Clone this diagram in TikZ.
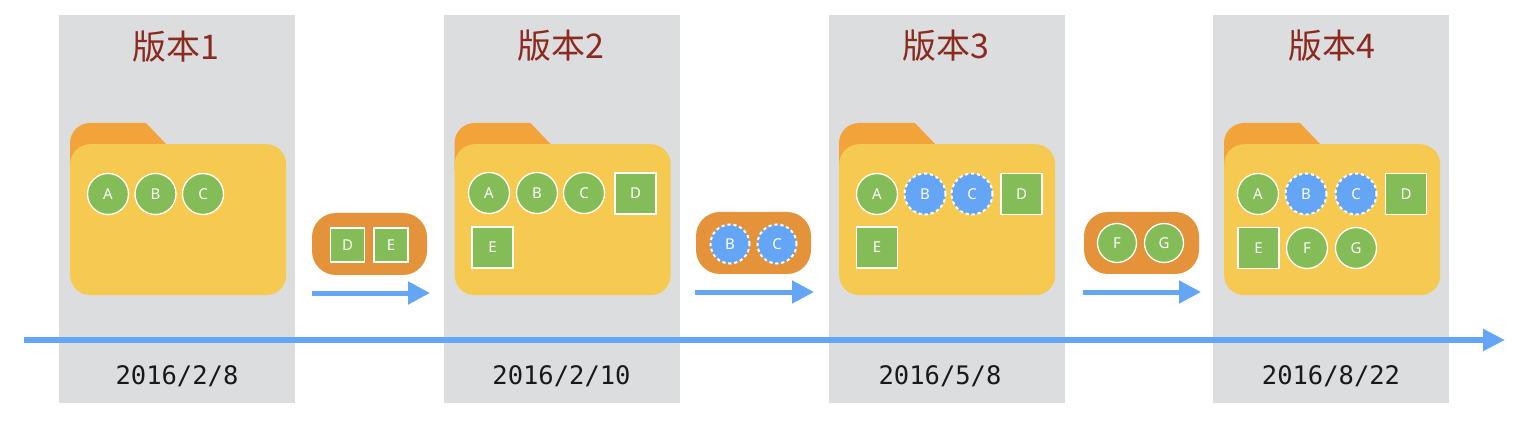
\documentclass[tikz,border=0pt]{standalone}
\usepackage{fontspec}
\setmainfont{Noto Sans}
\newfontfamily\cjkfont{Noto Sans CJK SC}
\newfontfamily\datefont{DejaVu Sans Mono}
\usetikzlibrary{arrows.meta}
\definecolor{panelc}{HTML}{DCDDDF}
\definecolor{tabc}{HTML}{F2A33A}
\definecolor{folderc}{HTML}{F6CA50}
\definecolor{pillc}{HTML}{E5933A}
\definecolor{greenc}{HTML}{84BC58}
\definecolor{bluec}{HTML}{64A6F5}
\definecolor{titlec}{HTML}{8B2A1E}
\tikzset{
  x=1pt,y=-1pt,
  panel/.style={fill=panelc,draw=none,minimum width=236pt,minimum height=388pt,inner sep=0pt,outer sep=0pt,anchor=north west},
  foldertab/.style={fill=tabc,draw=none},
  folderbody/.style={fill=folderc,draw=none,rounded corners=20pt,minimum width=216pt,minimum height=151pt,inner sep=0pt,anchor=north west},
  pill/.style={fill=pillc,draw=none,rounded corners=24pt,minimum width=115pt,minimum height=62pt,inner sep=0pt},
  lab/.style={text=white,font=\fontsize{15}{15}\selectfont,inner sep=0pt},
  circ/.style={circle,lab,draw=white,line width=1.3pt,fill=greenc,minimum size=41pt},
  bcirc/.style={circle,lab,draw=white,line width=2pt,dash pattern=on 3.2pt off 2.8pt,fill=bluec,minimum size=41pt},
  sq/.style={rectangle,lab,draw=white,line width=1.5pt,fill=greenc,minimum size=41pt},
  smallcirc/.style={minimum size=39pt},
  smallsq/.style={minimum size=34pt},
  ver/.style={text=titlec,font=\cjkfont\fontsize{34}{34}\selectfont,inner sep=0pt},
  datelab/.style={text=black!90,font=\datefont\fontsize{25.5}{25.5}\selectfont,inner sep=0pt},
  flow/.style={draw=bluec,line width=5pt,-{Triangle[length=22pt,width=22pt]}},
  axis/.style={draw=bluec,line width=5.5pt,-{Triangle[length=22pt,width=21pt]}}
}
\begin{document}
\begin{tikzpicture}
\useasboundingbox (0,0) rectangle (1516,422);
% panels
\node[panel] (p1) at (59,15) {};
\node[panel] (p2) at (444,15) {};
\node[panel] (p3) at (828.5,15) {};
\node[panel] (p4) at (1213,15) {};
% titles and dates
\node[ver] (t1) at (176,47) {版本1};
\node[ver] (t2) at (561,46) {版本2};
\node[ver] (t3) at (946,46) {版本3};
\node[ver] (t4) at (1332,46) {版本4};
\node[datelab] (d1) at (177,376) {2016/2/8};
\node[datelab] (d2) at (561.5,376) {2016/2/10};
\node[datelab] (d3) at (940,376) {2016/5/8};
\node[datelab] (d4) at (1331,376) {2016/8/22};
% folders
\foreach \fx/\nm in {70/f1,454.5/f2,839/f3,1224/f4}{
  \fill[foldertab] (\fx,170) [rounded corners=20pt] -- (\fx,123) [sharp corners] -- ++(76,0) -- ++(20,21) -- ++(0,26) -- cycle;
  \node[folderbody] (\nm) at (\fx,144) {};
}
% folder 1
\node[circ] (a1) at (108,194) {A};
\node[circ] (b1) at (155.5,194) {B};
\node[circ] (c1) at (203,194) {C};
% folder 2
\node[circ] (a2) at (489,193) {A};
\node[circ] (b2) at (537,193) {B};
\node[circ] (c2) at (584,193) {C};
\node[sq] (d2s) at (635.5,193.5) {D};
\node[sq] (e2) at (492.5,247.5) {E};
% folder 3
\node[circ] (a3) at (877,194) {A};
\node[bcirc] (b3) at (925,194) {B};
\node[bcirc] (c3) at (972,194) {C};
\node[sq] (d3s) at (1021.5,194) {D};
\node[sq] (e3) at (877,247.5) {E};
% folder 4
\node[circ] (a4) at (1258,194) {A};
\node[bcirc] (b4) at (1306,194) {B};
\node[bcirc] (c4) at (1356,194) {C};
\node[sq] (d4s) at (1406,194) {D};
\node[sq] (e4) at (1258.5,248) {E};
\node[circ] (f4c) at (1307,248) {F};
\node[circ] (g4) at (1356,248) {G};
% change pills
\node[pill] (pl1) at (369.5,244) {};
\node[sq,smallsq] (pd) at (347.5,245) {D};
\node[sq,smallsq] (pe) at (391,245) {E};
\node[pill] (pl2) at (753.5,243) {};
\node[bcirc,smallcirc] (pb) at (730,244) {B};
\node[bcirc,smallcirc] (pc) at (777,244) {C};
\node[pill] (pl3) at (1141.5,243) {};
\node[circ,smallcirc] (pf) at (1117,243) {F};
\node[circ,smallcirc] (pg) at (1164,243) {G};
% arrows
\coordinate (s1) at (312,293); \coordinate (e1c) at (430,293);
\coordinate (s2) at (695,292); \coordinate (e2c) at (814,292);
\coordinate (s3) at (1083,292); \coordinate (e3c) at (1201,292);
\coordinate (s4) at (24,340); \coordinate (e4c) at (1505,340);
\draw[flow] (s1) -- (e1c);
\draw[flow] (s2) -- (e2c);
\draw[flow] (s3) -- (e3c);
\draw[axis] (s4) -- (e4c);
\end{tikzpicture}
\end{document}
